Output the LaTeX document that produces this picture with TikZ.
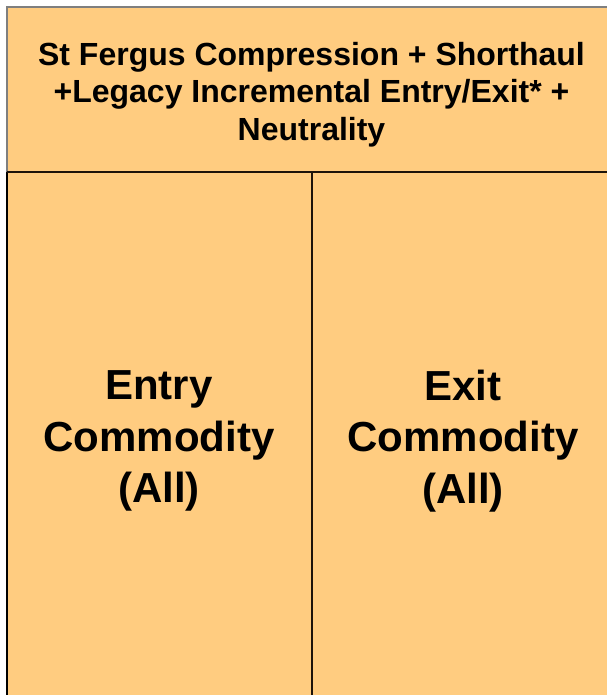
\documentclass[tikz,border=0pt]{standalone}
\usepackage{fontspec}
\setmainfont{Liberation Sans}
\definecolor{panel}{HTML}{FFCC80}
\definecolor{rim}{HTML}{7F7F7F}
\begin{document}
\begin{tikzpicture}[x=1pt,y=-1pt,
  headtext/.style={align=center,font=\bfseries\fontsize{32}{37.5}\selectfont,inner sep=0pt},
  bodytext/.style={align=center,font=\bfseries\fontsize{42}{51.5}\selectfont,inner sep=0pt},
  divider/.style={line width=2pt,draw=black!85!brown}]
  \useasboundingbox (0,0) rectangle (606,695);
  % panel background and outer rim
  \fill[panel] (7,7) rectangle (620,700);
  \draw[rim,line width=1.2pt] (7,700) -- (7,7) -- (620,7);
  \draw[black,line width=1.5pt] (7,172) -- (7,700);
  % header / body separators
  \coordinate (hl) at (7,171.5);
  \coordinate (hr) at (620,171.5);
  \coordinate (vt) at (312,171.5);
  \coordinate (vb) at (312,700);
  \draw[divider] (hl) -- (hr);
  \draw[divider] (vt) -- (vb);
  % texts
  \node[headtext] (head) at (311.5,94.5) {St Fergus Compression + Shorthaul\\+Legacy Incremental Entry/Exit* +\\Neutrality};
  \node[bodytext] (entry) at (159,441) {Entry\\Commodity\\(All)};
  \node[bodytext] (exit) at (463,441) {Exit\\Commodity\\(All)};
\end{tikzpicture}
\end{document}
